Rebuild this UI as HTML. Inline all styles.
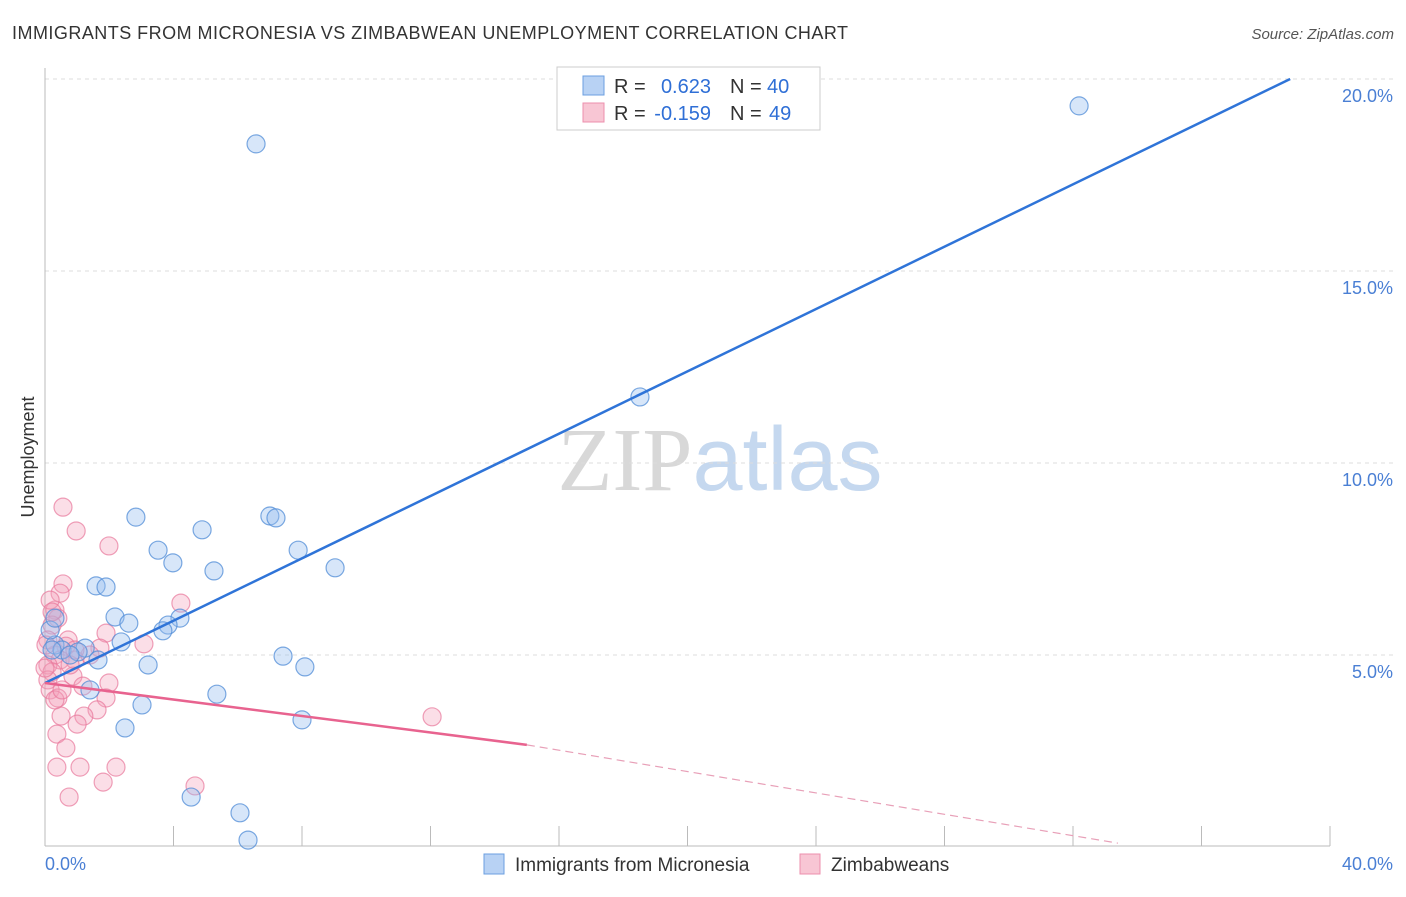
<!DOCTYPE html>
<html><head><meta charset="utf-8"><style>
body{margin:0;background:#fff;font-family:"Liberation Sans",sans-serif;}
svg text{font-family:"Liberation Sans",sans-serif;}
</style></head><body>
<svg id="chart" width="1406" height="892" viewBox="0 0 1406 892" xmlns="http://www.w3.org/2000/svg">
<text x="12" y="39" font-size="18" fill="#333" textLength="836">IMMIGRANTS FROM MICRONESIA VS ZIMBABWEAN UNEMPLOYMENT CORRELATION CHART</text>
<text x="1394" y="39" font-size="15" fill="#555" text-anchor="end" font-style="italic">Source: ZipAtlas.com</text>
<text x="720" y="490" font-size="90" text-anchor="middle"><tspan fill="#d8d8d8" font-family="Liberation Serif">ZIP</tspan><tspan fill="#c5d8ef">atlas</tspan></text>
<g id="grid"></g>
<line x1="45" y1="68" x2="45" y2="846" stroke="#bbb"/>
<line x1="45" y1="846" x2="1330" y2="846" stroke="#bbb"/>
<text transform="translate(34,457) rotate(-90)" font-size="18" fill="#333" text-anchor="middle">Unemployment</text>
<text x="45" y="870" font-size="18" fill="#4a7fd4">0.0%</text>
<text x="1393" y="870" font-size="18" fill="#4a7fd4" text-anchor="end">40.0%</text>
<g id="points"></g>
<g id="trends"></g>
<g>
<rect x="557" y="67" width="263" height="63" fill="#fff" stroke="#ccc"/>
<rect x="583" y="76" width="21" height="19" fill="#b8d2f4" stroke="#6b9fe0"/>
<rect x="583" y="103" width="21" height="19" fill="#f8c6d4" stroke="#ec8fad"/>
<text x="614" y="93" font-size="20" fill="#333">R =</text>
<text x="711" y="93" font-size="20" fill="#2f6fd6" text-anchor="end">0.623</text>
<text x="730" y="93" font-size="20" fill="#333">N =</text>
<text x="767" y="93" font-size="20" fill="#2f6fd6">40</text>
<text x="614" y="120" font-size="20" fill="#333">R =</text>
<text x="711" y="120" font-size="20" fill="#2f6fd6" text-anchor="end">-0.159</text>
<text x="730" y="120" font-size="20" fill="#333">N =</text>
<text x="769" y="120" font-size="20" fill="#2f6fd6">49</text>
</g>
<g>
<rect x="484" y="854" width="20" height="20" fill="#b8d2f4" stroke="#6b9fe0"/>
<text x="515" y="871" font-size="19" fill="#333">Immigrants from Micronesia</text>
<rect x="800" y="854" width="20" height="20" fill="#f8c6d4" stroke="#ec8fad"/>
<text x="831" y="871" font-size="19" fill="#333">Zimbabweans</text>
</g>
</svg>
<script>
const yTicks=[5,10,15,20];
const yTickLabels=["5.0%","10.0%","15.0%","20.0%"];
const xTicks=[0,4,8,12,16,20,24,28,32,36,40];
const blueX=[6.57,32.19,18.52,2.83,7.00,7.19,4.89,3.52,7.88,3.98,5.26,9.03,1.59,1.90,2.18,2.61,4.20,3.83,3.67,2.37,1.25,0.31,0.53,1.03,1.65,3.21,7.41,8.09,1.40,5.35,3.02,8.00,2.49,4.55,6.07,6.32,0.16,0.31,0.22,0.78];
const blueY=[18.31,19.30,11.72,8.59,8.62,8.57,8.26,7.73,7.73,7.40,7.19,7.27,6.80,6.77,5.99,5.83,5.96,5.78,5.63,5.34,5.18,5.26,5.13,5.08,4.87,4.74,4.97,4.69,4.09,3.98,3.70,3.31,3.10,1.30,0.89,0.18,5.65,5.96,5.13,5.00];
const pinkX=[0.56,0.97,1.99,0.56,0.47,4.23,0.31,0.40,0.22,3.08,1.90,0.72,0.65,1.71,0.31,0.47,0.09,0.93,0.22,0.87,0.09,1.18,1.99,0.16,0.40,1.90,1.62,1.21,0.50,1.00,0.37,0.65,0.37,1.09,2.21,1.81,4.67,0.75,12.05,0.16,0.09,0.78,0.00,1.40,0.31,0.53,0.03,0.93,0.22];
const pinkY=[8.85,8.23,7.84,6.85,6.61,6.35,6.17,5.96,5.78,5.29,5.57,5.39,5.23,5.18,5.00,4.87,4.74,4.87,4.56,4.45,4.35,4.19,4.27,4.09,3.88,3.88,3.57,3.41,3.41,3.20,2.94,2.58,2.08,2.08,2.08,1.69,1.59,1.30,3.39,6.43,5.39,4.74,4.66,5.00,3.83,4.09,5.26,5.13,6.12];
const blueTrend=[0,4.27,38.76,20.0];
const pinkTrend=[0,4.27,15.0,2.66,33.4,0.1];
const sx=v=>45+v*1285/40, sy=v=>847-v*38.4;
const NS="http://www.w3.org/2000/svg";
function mk(t,a,p){const e=document.createElementNS(NS,t);for(const k in a)e.setAttribute(k,a[k]);p.appendChild(e);return e;}
const grid=document.getElementById('grid');
yTicks.forEach((t,i)=>{
 const l=mk('line',{x1:45,x2:1394,y1:sy(t),y2:sy(t),stroke:'#ddd','stroke-dasharray':'4,4'},grid);
 
 
 const tx=mk('text',{x:1393,y:sy(t)+23,'font-size':18,fill:'#4a7fd4','text-anchor':'end'},grid);
 tx.textContent=yTickLabels[i];
 
 
});
xTicks.forEach(t=>{
 const l=mk('line',{x1:sx(t),x2:sx(t),y1:826,y2:846,stroke:'#bbb'},grid);
 
 
});
const pts=document.getElementById('points');
pinkX.forEach((x,i)=>{
 const c=mk('circle',{cx:sx(x),cy:sy(pinkY[i]),r:9,fill:'rgba(244,160,185,0.35)',stroke:'rgba(232,120,155,0.7)','stroke-width':1.2},pts);
 
 
});
blueX.forEach((x,i)=>{
 const c=mk('circle',{cx:sx(x),cy:sy(blueY[i]),r:9,fill:'rgba(150,190,238,0.38)',stroke:'rgba(80,140,215,0.75)','stroke-width':1.2},pts);
 
 
});
const tr=document.getElementById('trends');
const b=mk('line',{x1:sx(blueTrend[0]),y1:sy(blueTrend[1]),x2:sx(blueTrend[2]),y2:sy(blueTrend[3]),stroke:'#2f74d8','stroke-width':2.5},tr);


const p=mk('line',{x1:sx(pinkTrend[0]),y1:sy(pinkTrend[1]),x2:sx(pinkTrend[2]),y2:sy(pinkTrend[3]),stroke:'#e8638f','stroke-width':2.5},tr);


const pd=mk('line',{x1:sx(pinkTrend[2]),y1:sy(pinkTrend[3]),x2:sx(pinkTrend[4]),y2:sy(pinkTrend[5]),stroke:'#e8a0b8','stroke-width':1.2,'stroke-dasharray':'8,5'},tr);


</script>
</body></html>
